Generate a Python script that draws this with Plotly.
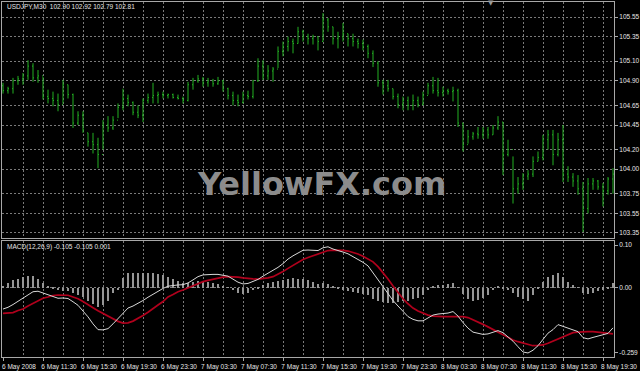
import plotly.graph_objects as go

# ---------------- data (USDJPY M30) ----------------
OPEN = [104.85,104.80,104.82,104.90,104.92,104.95,105.05,104.93,104.95,104.74,
        104.72,104.70,104.66,104.86,104.76,104.47,104.55,104.37,104.28,104.25,
        104.15,104.45,104.42,104.50,104.63,104.72,104.68,104.58,104.55,104.70,
        104.73,104.75,104.76,104.75,104.76,104.73,104.72,104.70,104.86,104.90,
        104.92,104.88,104.90,104.87,104.90,104.82,104.75,104.70,104.68,104.75,
        104.74,104.90,105.05,104.95,105.00,105.02,105.20,105.25,105.30,105.28,
        105.40,105.35,105.33,105.35,105.30,105.52,105.45,105.33,105.35,105.38,
        105.33,105.30,105.28,105.25,105.18,105.08,104.88,104.85,104.82,104.74,
        104.66,104.70,104.65,104.70,104.66,104.75,104.85,104.80,104.78,104.80,
        104.79,104.80,104.47,104.25,104.33,104.36,104.35,104.40,104.35,104.42,
        104.48,104.15,104.20,103.80,103.85,103.93,103.95,104.08,104.12,104.30,
        104.35,104.15,104.30,103.95,103.92,103.88,103.80,103.60,103.85,103.88,
        103.82,103.78,103.90]
HIGH = [104.88,104.84,104.93,104.95,104.98,105.11,105.08,105.01,104.94,104.81,
        104.79,104.77,104.91,104.86,104.77,104.59,104.59,104.37,104.37,104.32,
        104.50,104.54,104.54,104.67,104.82,104.76,104.69,104.65,104.72,104.77,
        104.88,104.79,104.79,104.77,104.77,104.76,104.74,104.89,104.93,104.96,
        104.94,104.93,104.92,104.94,104.91,104.83,104.79,104.76,104.79,104.80,
        104.91,105.13,105.11,105.06,105.04,105.25,105.30,105.35,105.33,105.45,
        105.42,105.38,105.37,105.35,105.59,105.54,105.45,105.40,105.49,105.38,
        105.38,105.33,105.32,105.27,105.21,105.10,104.91,104.91,104.82,104.77,
        104.74,104.74,104.76,104.74,104.79,104.88,104.94,104.93,104.84,104.82,
        104.84,104.82,104.47,104.40,104.38,104.43,104.43,104.43,104.45,104.54,
        104.48,104.30,104.13,103.92,103.96,103.99,104.13,104.18,104.35,104.40,
        104.40,104.37,104.45,104.03,103.96,103.94,103.87,103.91,103.91,103.89,
        103.86,103.92,104.01]
LOW  = [104.77,104.77,104.77,104.86,104.86,104.91,104.89,104.88,104.71,104.67,
        104.64,104.59,104.67,104.72,104.42,104.45,104.37,104.23,104.16,104.01,
        104.20,104.38,104.40,104.52,104.60,104.64,104.55,104.52,104.48,104.67,
        104.67,104.67,104.72,104.72,104.72,104.71,104.67,104.69,104.81,104.88,
        104.84,104.84,104.84,104.86,104.79,104.71,104.65,104.64,104.67,104.71,
        104.72,104.89,104.91,104.91,104.89,105.03,105.15,105.20,105.18,105.28,
        105.30,105.27,105.27,105.21,105.30,105.40,105.27,105.23,105.30,105.25,
        105.25,105.23,105.21,105.13,105.04,104.84,104.76,104.79,104.71,104.62,
        104.60,104.60,104.60,104.63,104.65,104.76,104.77,104.74,104.74,104.76,
        104.69,104.43,104.18,104.26,104.30,104.31,104.31,104.31,104.35,104.40,
        103.94,104.13,103.65,103.75,103.79,103.89,103.92,104.08,104.09,104.20,
        104.04,104.13,103.87,103.87,103.82,103.74,103.36,103.55,103.79,103.79,
        103.62,103.74,103.75]
CLOSE = [104.80,104.82,104.90,104.92,104.95,105.05,104.93,104.95,104.74,104.72,
         104.70,104.66,104.86,104.76,104.47,104.55,104.40,104.28,104.25,104.15,
         104.45,104.42,104.50,104.63,104.72,104.68,104.58,104.55,104.70,104.73,
         104.75,104.76,104.75,104.76,104.73,104.72,104.70,104.86,104.90,104.92,
         104.88,104.90,104.87,104.90,104.82,104.75,104.70,104.68,104.75,104.74,
         104.90,105.05,104.95,105.00,105.02,105.20,105.25,105.30,105.28,105.40,
         105.35,105.33,105.35,105.30,105.52,105.45,105.33,105.35,105.38,105.33,
         105.30,105.28,105.25,105.18,105.08,104.88,104.85,104.82,104.74,104.66,
         104.70,104.65,104.70,104.66,104.75,104.85,104.80,104.78,104.80,104.79,
         104.80,104.47,104.25,104.33,104.36,104.35,104.40,104.35,104.42,104.48,
         104.15,104.20,103.80,103.85,103.93,103.95,104.08,104.12,104.30,104.35,
         104.15,104.30,103.95,103.92,103.88,103.80,103.60,103.85,103.88,103.82,
         103.78,103.90,103.95]

MACD_MAIN = [-0.084,-0.077,-0.066,-0.053,-0.040,-0.025,-0.015,-0.013,-0.020,-0.029,
             -0.036,-0.041,-0.040,-0.042,-0.055,-0.069,-0.092,-0.115,-0.143,-0.166,
             -0.167,-0.162,-0.143,-0.122,-0.099,-0.080,-0.072,-0.062,-0.050,-0.037,
             -0.025,-0.013,-0.002,0.007,0.011,0.012,0.013,0.020,0.032,0.045,
             0.052,0.054,0.054,0.054,0.050,0.047,0.035,0.023,0.016,0.018,
             0.026,0.034,0.047,0.058,0.068,0.082,0.097,0.115,0.128,0.138,
             0.150,0.151,0.151,0.149,0.160,0.164,0.155,0.150,0.143,0.136,
             0.125,0.115,0.102,0.088,0.060,0.035,0.005,-0.025,-0.050,-0.072,
             -0.093,-0.114,-0.125,-0.131,-0.131,-0.118,-0.108,-0.104,-0.102,-0.100,
             -0.094,-0.112,-0.138,-0.160,-0.176,-0.181,-0.185,-0.183,-0.175,-0.170,
             -0.178,-0.195,-0.212,-0.234,-0.255,-0.259,-0.248,-0.230,-0.203,-0.180,
             -0.166,-0.146,-0.153,-0.160,-0.167,-0.174,-0.198,-0.203,-0.197,-0.192,
             -0.186,-0.181,-0.159]
MACD_SIGNAL = [-0.101,-0.101,-0.098,-0.090,-0.084,-0.072,-0.062,-0.050,-0.041,-0.036,
               -0.030,-0.028,-0.028,-0.029,-0.036,-0.043,-0.054,-0.065,-0.079,-0.091,
               -0.102,-0.112,-0.124,-0.133,-0.140,-0.139,-0.132,-0.122,-0.110,-0.097,
               -0.084,-0.068,-0.054,-0.036,-0.026,-0.015,-0.008,0.001,0.010,0.019,
               0.025,0.030,0.035,0.039,0.043,0.045,0.045,0.043,0.040,0.037,
               0.036,0.035,0.037,0.040,0.045,0.054,0.065,0.078,0.090,0.103,
               0.113,0.121,0.128,0.134,0.142,0.149,0.151,0.151,0.150,0.147,
               0.142,0.135,0.126,0.116,0.104,0.085,0.062,0.036,0.008,-0.018,
               -0.043,-0.063,-0.080,-0.092,-0.101,-0.108,-0.112,-0.114,-0.114,-0.114,
               -0.114,-0.114,-0.114,-0.118,-0.126,-0.134,-0.145,-0.155,-0.166,-0.176,
               -0.187,-0.197,-0.207,-0.214,-0.220,-0.225,-0.230,-0.229,-0.227,-0.220,
               -0.211,-0.203,-0.194,-0.186,-0.178,-0.176,-0.174,-0.174,-0.174,-0.176,
               -0.178,-0.181,-0.183]
MACD_HIST = [0.005,0.020,0.030,0.037,0.044,0.047,0.047,0.037,0.021,0.007,
             -0.003,-0.010,-0.012,-0.013,-0.020,-0.027,-0.038,-0.050,-0.064,-0.075,
             -0.066,-0.050,-0.020,-0.008,0.041,0.058,0.060,0.060,0.060,0.060,
             0.059,0.055,0.052,0.043,0.037,0.027,0.021,0.019,0.022,0.026,
             0.027,0.024,0.019,0.015,0.007,0.002,-0.010,-0.020,-0.024,-0.019,
             -0.010,-0.001,0.010,0.018,0.023,0.028,0.032,0.037,0.038,0.035,
             0.037,0.030,0.023,0.015,0.018,0.015,0.004,-0.001,-0.007,-0.011,
             -0.017,-0.020,-0.024,-0.028,-0.044,-0.050,-0.057,-0.061,-0.058,-0.054,
             -0.050,-0.051,-0.045,-0.039,-0.030,-0.010,0.004,0.010,0.012,0.014,
             0.020,0.002,-0.024,-0.042,-0.050,-0.047,-0.040,-0.028,-0.009,0.006,
             -0.005,-0.010,-0.020,-0.035,-0.045,-0.050,-0.030,-0.005,0.022,0.045,
             0.050,0.058,0.045,0.022,0.010,0.002,-0.020,-0.026,-0.020,-0.012,
             -0.007,-0.002,0.020]

TIME_TICK_BARS = [0, 8, 16, 24, 32, 40, 48, 56, 64, 72, 80, 88, 96, 104, 112, 120]
TIME_TICK_LABELS = ["6 May 2008", "6 May 11:30", "6 May 15:30", "6 May 19:30",
                    "6 May 23:30", "7 May 03:30", "7 May 07:30", "7 May 11:30",
                    "7 May 15:30", "7 May 19:30", "7 May 23:30", "8 May 03:30",
                    "8 May 07:30", "8 May 11:30", "8 May 15:30", "8 May 19:30"]
PRICE_TICKS = [105.55, 105.35, 105.10, 104.90, 104.65, 104.45, 104.20,
               104.00, 103.75, 103.55, 103.35]
MACD_TICK_VALS = [0.171, 0.0, -0.259]
MACD_TICK_LABELS = ["0.10", "0.00", "-0.259"]

HEADER = "USDJPY,M30  102.90 102.92 102.79 102.81"
MACD_TITLE = "MACD(12,26,9) -0.105 -0.105 0.001"

# ---------------- figure ----------------
W, H = 640, 371
idx = list(range(len(HIGH)))
GREEN = "#22b022"
GRID = "#7a7a7a"
FRAME = "#a8a8a8"
TXT = "#e6e6e6"
FONT = "Liberation Sans"

fig = go.Figure()
fig.add_trace(go.Ohlc(x=idx, open=OPEN, high=HIGH, low=LOW, close=CLOSE,
                      xaxis="x", yaxis="y", tickwidth=0.2,
                      increasing=dict(line=dict(color=GREEN, width=1)),
                      decreasing=dict(line=dict(color=GREEN, width=1)),
                      hoverinfo="skip", showlegend=False))
fig.add_trace(go.Bar(x=idx, y=MACD_HIST, xaxis="x2", yaxis="y2", width=0.18,
                     marker=dict(color="#969696", line=dict(width=0)),
                     hoverinfo="skip", showlegend=False))
fig.add_trace(go.Scatter(x=idx, y=MACD_SIGNAL, xaxis="x2", yaxis="y2", mode="lines",
                         line=dict(color="#b0001c", width=1.7),
                         hoverinfo="skip", showlegend=False))
fig.add_trace(go.Scatter(x=idx, y=MACD_MAIN, xaxis="x2", yaxis="y2", mode="lines",
                         line=dict(color="#d8d8d8", width=1),
                         hoverinfo="skip", showlegend=False))

xdom = [2 / W, 614 / W]
xrange = [-0.2, 122.2]
minor = dict(tickmode="linear", tick0=0, dtick=4, showgrid=True,
             gridcolor=GRID, griddash="2px,2px", gridwidth=1, ticks="")

fig.update_layout(
    width=W, height=H, margin=dict(l=0, r=0, t=0, b=0, autoexpand=False),
    paper_bgcolor="black", plot_bgcolor="black",
    font=dict(family=FONT, size=6.5, color=TXT),
    bargap=0,
    xaxis=dict(domain=xdom, range=xrange, anchor="y", showticklabels=False,
               tickmode="array", tickvals=TIME_TICK_BARS, ticks="", automargin=False,
               showgrid=True, gridcolor=GRID, griddash="2px,2px", minor=minor,
               showline=True, linecolor=FRAME, mirror=True, zeroline=False,
               rangeslider=dict(visible=False), fixedrange=True),
    yaxis=dict(domain=[(H - 238) / H, (H - 2) / H], range=[103.299, 105.703],
               side="right", anchor="x", tickmode="array", tickvals=PRICE_TICKS,
               ticktext=[f"{v:.2f}" for v in PRICE_TICKS], automargin=False,
               ticks="outside", ticklen=3, tickcolor=FRAME,
               showgrid=True, gridcolor=GRID, griddash="2px,2px",
               showline=True, linecolor=FRAME, mirror=True, zeroline=False,
               tickfont=dict(size=6.5, color=TXT, family=FONT)),
    xaxis2=dict(domain=xdom, range=xrange, anchor="y2", matches="x",
                tickmode="array", tickvals=TIME_TICK_BARS, ticktext=TIME_TICK_LABELS,
                ticks="outside", ticklen=3, tickcolor=FRAME, ticklabelshift=16,
                automargin=False,
                showgrid=True, gridcolor=GRID, griddash="2px,2px", minor=minor,
                showline=True, linecolor=FRAME, mirror=True, zeroline=False,
                tickfont=dict(size=6.5, color=TXT, family=FONT), tickangle=0),
    yaxis2=dict(domain=[(H - 357) / H, (H - 241) / H], range=[-0.275, 0.187],
                side="right", anchor="x2", tickmode="array", tickvals=MACD_TICK_VALS,
                ticktext=MACD_TICK_LABELS, ticks="outside", ticklen=3, tickcolor=FRAME,
                automargin=False, showgrid=False, zeroline=False,
                minor=dict(tickmode="array", tickvals=[0.0], showgrid=True,
                           gridcolor=GRID, griddash="2px,2px", gridwidth=1, ticks=""),
                showline=True, linecolor=FRAME, mirror=True,
                tickfont=dict(size=6.5, color=TXT, family=FONT)),
    annotations=[
        dict(text=HEADER, xref="paper", yref="paper", x=5 / W, y=1 - 7 / H,
             xanchor="left", yanchor="middle", showarrow=False,
             font=dict(size=6.5, color=TXT, family=FONT)),
        dict(text=MACD_TITLE, xref="paper", yref="paper", x=5 / W, y=1 - 247 / H,
             xanchor="left", yanchor="middle", showarrow=False,
             font=dict(size=6.5, color=TXT, family=FONT)),
        dict(text="<b>YellowFX.com</b>", xref="paper", yref="paper",
             x=321 / W, y=1 - 184 / H, xanchor="center", yanchor="middle",
             showarrow=False, font=dict(size=32, color="#8c8c8c", family="DejaVu Sans")),
        dict(text="▼", xref="paper", yref="paper", x=491 / W, y=1 - 3 / H,
             xanchor="center", yanchor="middle", showarrow=False,
             font=dict(size=7, color="#9a9a9a", family="DejaVu Sans")),
    ],
)

fig.write_html("out.html")
